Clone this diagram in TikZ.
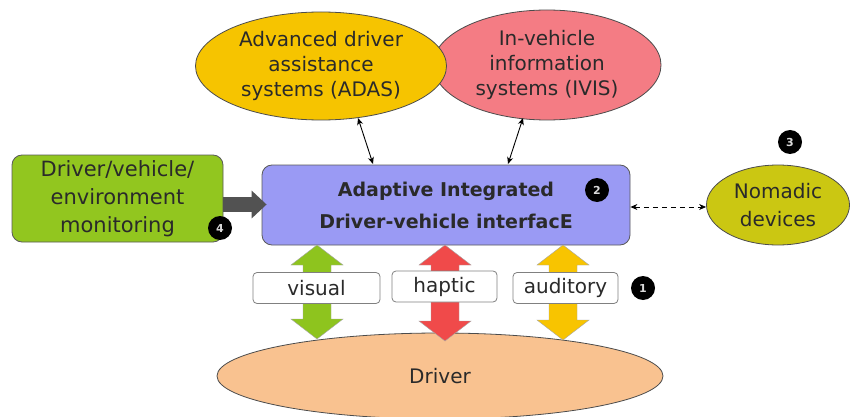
\documentclass[tikz,border=0pt]{standalone}
\usepackage{fontspec}
\setmainfont{DejaVu Sans}
\usetikzlibrary{arrows.meta,shapes.geometric,calc}

\definecolor{adasY}{HTML}{F6C400}
\definecolor{ivisP}{HTML}{F47C84}
\definecolor{aideB}{HTML}{9A9AF4}
\definecolor{nomadY}{HTML}{CBC712}
\definecolor{monG}{HTML}{92C61F}
\definecolor{drvO}{HTML}{F9C290}
\definecolor{arrG}{HTML}{8EC41E}
\definecolor{arrR}{HTML}{F04A4A}
\definecolor{arrY}{HTML}{F8C400}
\definecolor{txt}{HTML}{2A2A2A}

\tikzset{
  lbl/.style={text=txt, font=\fontsize{20}{25}\selectfont, align=center},
  bubble/.style={ellipse, draw=black!70, line width=0.8pt, inner sep=0pt, lbl},
  panel/.style={rectangle, rounded corners=10pt, draw=black!65, line width=0.8pt, lbl},
  badge/.style={circle, fill=black, minimum size=24pt, inner sep=0pt,
                text=white!85!black, font=\fontsize{11}{11}\selectfont\bfseries},
  chan/.style={rectangle, rounded corners=4pt, draw=black!50, line width=0.8pt,
               fill=white, minimum height=31pt, inner sep=0pt, lbl},
  link/.style={{Stealth[length=7pt,width=6pt]}-{Stealth[length=7pt,width=6pt]},
               line width=0.9pt, black},
}

% vertical two-headed block arrow: centre x, top y, bottom y, colour
\newcommand\dualblock[4]{%
  \fill[#4, draw=black!35, line width=0.4pt]
    (#1,#2) -- ++(26,20) -- ++(-12,0) -- (#1+14,#3-20) -- ++(12,0)
    -- (#1,#3) -- ++(-26,-20) -- ++(12,0) -- (#1-14,#2+20) -- ++(-12,0) -- cycle;}

\begin{document}
\begin{tikzpicture}[x=1pt,y=-1pt]
\useasboundingbox[fill=white] (0,0) rectangle (851,417);

% upper systems
\node[bubble, fill=ivisP, minimum width=228pt, minimum height=110pt] (ivis) at (547,65)
  {In-vehicle\\information\\systems (IVIS)};
\node[bubble, fill=adasY, minimum width=251pt, minimum height=108pt] (adas) at (321,66)
  {Advanced driver\\assistance\\systems (ADAS)};

% central interface
\node[panel, fill=aideB, minimum width=368pt, minimum height=80pt,
      font=\fontsize{19}{32}\selectfont\bfseries] (aide) at (446,205)
  {Adaptive Integrated\\Driver-vehicle interfacE};

% monitoring
\node[panel, fill=monG, minimum width=211pt, minimum height=87pt,
      font=\fontsize{21}{28}\selectfont] (mon) at (117.5,198.5)
  {Driver/vehicle/\\environment\\monitoring};

% nomadic devices
\node[bubble, fill=nomadY, minimum width=143pt, minimum height=80pt,
      font=\fontsize{20}{28}\selectfont] (nomad) at (778,205)
  {Nomadic\\devices};

% driver
\node[bubble, fill=drvO, minimum width=446pt, minimum height=86pt] (driver) at (440,376)
  {Driver};

% links to the upper systems
\coordinate (adasEnd) at (373,164);
\coordinate (ivisEnd) at (508,164);
\draw[link] (358,118) -- (adasEnd);
\draw[link] (523,118) -- (ivisEnd);

% nomadic link
\draw[link, dashed, dash pattern=on 5pt off 4pt] (aide.east |- 0,207) -- (nomad.west |- 0,207);

% monitoring feed
\coordinate (feedEnd) at ($(aide.west |- 0,204.5)+(5,0)$);
\draw[line width=15pt, draw=black!68, -{Triangle[length=15pt,width=27pt]}]
  (mon.east |- 0,204.5) -- (feedEnd);

% channels between interface and driver
\dualblock{317}{245}{339}{arrG}
\dualblock{445}{245}{341}{arrR}
\dualblock{563}{245}{340}{arrY}

\node[chan, minimum width=127pt] (visual) at (316.5,288) {visual};
\node[chan, minimum width=105pt] (haptic) at (444.5,286.5) {haptic};
\node[chan, minimum width=105pt] (auditory) at (565.5,288) {auditory};

% numbered badges
\node[badge] (b1) at (643,288) {1};
\node[badge] (b2) at (597,190) {2};
\node[badge] (b3) at (790,142) {3};
\node[badge] (b4) at (220,228) {4};
\end{tikzpicture}
\end{document}
